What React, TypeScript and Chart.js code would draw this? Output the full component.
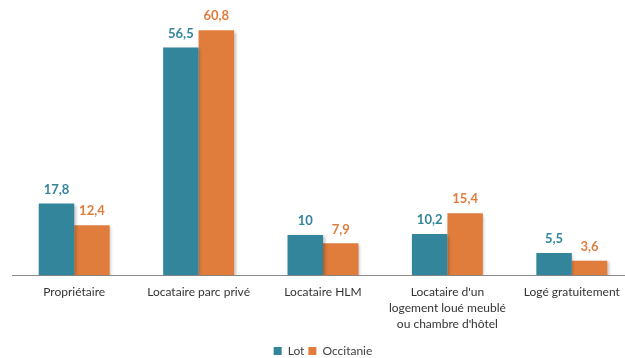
import React, { useEffect, useRef } from "react";
import { Chart, registerables } from "chart.js";

Chart.register(...registerables);

const categories: string[][] = [
  ["Propriétaire"],
  ["Locataire parc privé"],
  ["Locataire HLM"],
  ["Locataire d'un", "logement loué meublé", "ou chambre d'hôtel"],
  ["Logé gratuitement"],
];
const lotValues = [17.8, 56.5, 10, 10.2, 5.5];
const occitanieValues = [12.4, 60.8, 7.9, 15.4, 3.6];
const seriesNames = ["Lot", "Occitanie"];

const TEAL = "#32859B";
const ORANGE = "#E07C3C";
const FONT = "Lato, 'Open Sans', sans-serif";

const fmt = (v: number) => String(v).replace(".", ",");

const shadowPlugin = {
  id: "barShadow",
  beforeDatasetsDraw(chart: any) {
    const ctx = chart.ctx;
    ctx.save();
    ctx.shadowColor = "rgba(0,0,0,0.25)";
    ctx.shadowBlur = 3;
    ctx.shadowOffsetX = 1.5;
    ctx.shadowOffsetY = 1.5;
  },
  afterDatasetsDraw(chart: any) {
    chart.ctx.restore();
  },
};

const labelPlugin = {
  id: "valueLabels",
  afterDatasetsDraw(chart: any) {
    const ctx = chart.ctx;
    ctx.save();
    ctx.font = `bold 13px ${FONT}`;
    ctx.textAlign = "center";
    ctx.textBaseline = "middle";
    chart.data.datasets.forEach((ds: any, i: number) => {
      const meta = chart.getDatasetMeta(i);
      ctx.fillStyle = ds.backgroundColor;
      meta.data.forEach((bar: any, j: number) => {
        ctx.fillText(fmt(ds.data[j]), bar.x, bar.y - 14);
      });
    });
    ctx.restore();
  },
};

export default function App() {
  const ref = useRef<HTMLCanvasElement | null>(null);
  useEffect(() => {
    if (!ref.current) return;
    const chart = new Chart(ref.current, {
      type: "bar",
      data: {
        labels: categories,
        datasets: [
          { label: seriesNames[0], data: lotValues, backgroundColor: TEAL, categoryPercentage: 0.57, barPercentage: 1 },
          { label: seriesNames[1], data: occitanieValues, backgroundColor: ORANGE, categoryPercentage: 0.57, barPercentage: 1 },
        ],
      },
      options: {
        animation: false,
        responsive: false,
        devicePixelRatio: 1,
        layout: { padding: { left: 12, right: 18, top: 0, bottom: -9 } },
        plugins: {
          legend: {
            position: "bottom",
            labels: {
              boxWidth: 8,
              boxHeight: 8,
              padding: 4,
              color: "#404040",
              font: { family: FONT, size: 12 },
            },
          },
          tooltip: { enabled: false },
        },
        scales: {
          x: {
            grid: { display: false, drawTicks: false },
            border: { display: true, color: "#8C8C8C", width: 1 },
            ticks: {
              color: "#333333",
              font: { family: FONT, size: 12, lineHeight: 1.3 },
              padding: 9.5,
              maxRotation: 0,
              autoSkip: false,
            },
          },
          y: {
            display: false,
            min: 0,
            max: 68.3,
          },
        },
      },
      plugins: [shadowPlugin, labelPlugin],
    });
    return () => chart.destroy();
  }, []);
  return (
    <div style={{ position: "fixed", left: 0, top: 0, width: 625, height: 358, overflow: "hidden", background: "#fff" }}>
      <canvas ref={ref} width={652} height={358} style={{ width: 652, height: 358, display: "block" }} />
    </div>
  );
}
